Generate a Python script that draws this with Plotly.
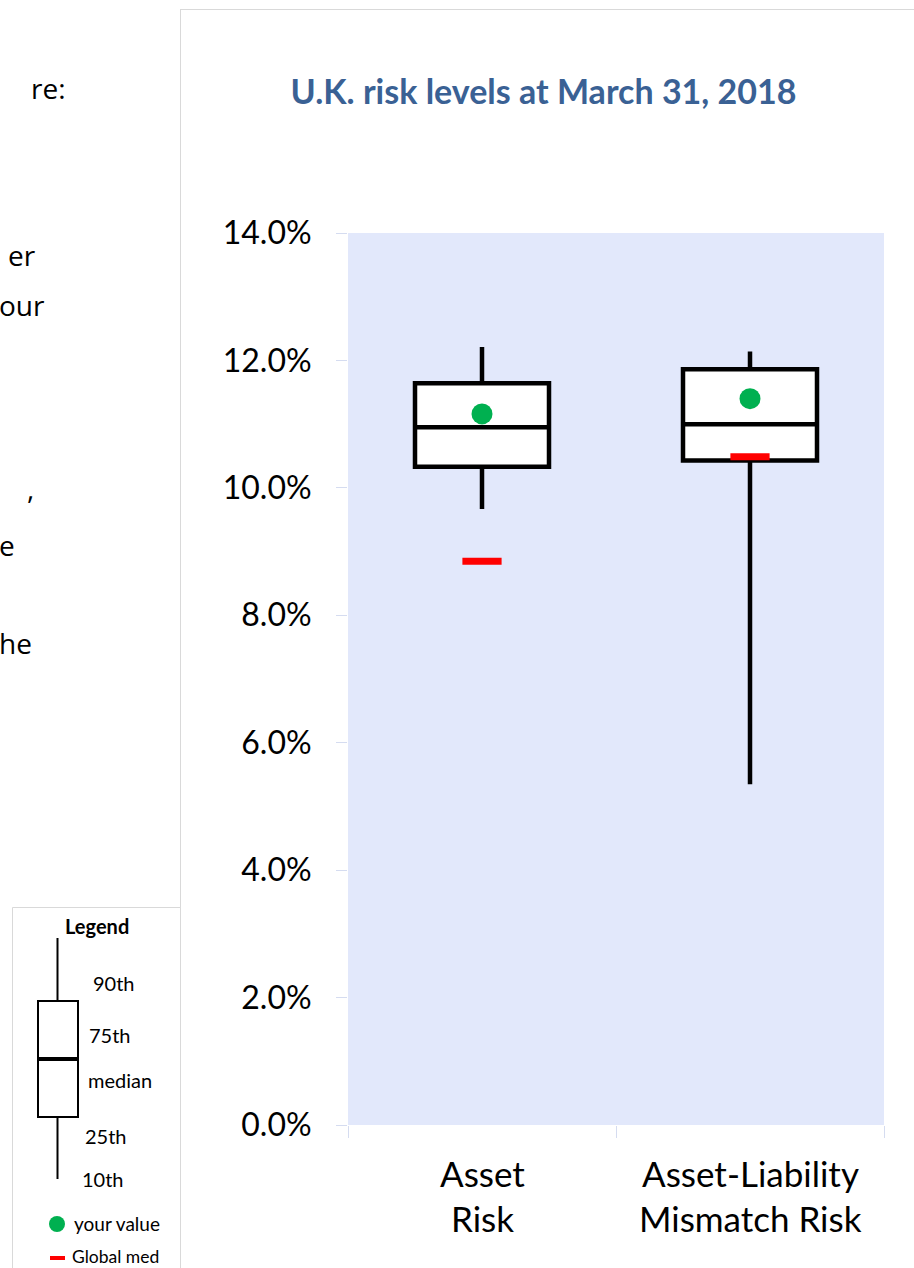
import plotly.graph_objects as go

# ---- data -------------------------------------------------------------
categories = ["Asset Risk", "Asset-Liability Mismatch Risk"]
category_lines = [["Asset", "Risk"], ["Asset-Liability", "Mismatch Risk"]]
p10 = [0.0967, 0.0535]
p25 = [0.1033, 0.1043]
p50 = [0.1095, 0.1100]
p75 = [0.1164, 0.1186]
p90 = [0.1221, 0.1214]
your_value = [0.1116, 0.1140]
global_median = [0.0885, 0.1049]
y_tick_values = [0.00, 0.02, 0.04, 0.06, 0.08, 0.10, 0.12, 0.14]

legend_labels = ["90th", "75th", "median", "25th", "10th"]
side_text = ["re:", "er", "our", ",", "e", "he"]

# ---- page geometry ----------------------------------------------------
W, H = 914, 1268
ML, MR, MT, MB = 348, 30, 233, 143
PW, PH = W - ML - MR, H - MT - MB

CHART_FONT = "Lato"
TEXT_FONT = "Open Sans"
FRAME = "#D9D9D9"


def fx(px):
    return (px - ML) / PW


def fy(py):
    return (H - MB - py) / PH


fig = go.Figure()

fig.add_trace(go.Box(
    x=categories,
    q1=p25, median=p50, q3=p75,
    lowerfence=p10, upperfence=p90,
    boxpoints=False,
    fillcolor="white",
    line=dict(color="black", width=4.5),
    whiskerwidth=0,
    width=0.5,
    hoverinfo="skip",
    showlegend=False,
))

fig.add_trace(go.Scatter(
    x=categories, y=global_median, mode="markers",
    marker=dict(symbol="line-ew", size=28,
                line=dict(color="#FF0000", width=7)),
    showlegend=False, hoverinfo="skip",
))

fig.add_trace(go.Scatter(
    x=categories, y=your_value, mode="markers",
    marker=dict(size=21, color="#00B050", line=dict(width=0)),
    showlegend=False, hoverinfo="skip",
))

# category labels, one line per annotation
annotations = []
for cat, lines in zip(categories, category_lines):
    for i, line in enumerate(lines):
        annotations.append(dict(
            x=cat, xref="x", y=fy(1173 + 45 * i), yref="paper",
            text=line, showarrow=False, xanchor="center", yanchor="middle",
            font=dict(family=CHART_FONT, size=35, color="black"),
        ))

# ---- surrounding frame and legend key --------------------------------
shapes = [
    dict(type="line", xref="paper", yref="paper",
         x0=fx(180), x1=fx(914), y0=fy(9.5), y1=fy(9.5),
         line=dict(color=FRAME, width=1)),
    dict(type="line", xref="paper", yref="paper",
         x0=fx(180.5), x1=fx(180.5), y0=fy(9.5), y1=fy(1270),
         line=dict(color=FRAME, width=1)),
    dict(type="rect", xref="paper", yref="paper",
         x0=fx(12.5), x1=fx(180.5), y0=fy(907.5), y1=fy(1272),
         line=dict(color=FRAME, width=1), fillcolor="white"),
    # key whisker, box and median
    dict(type="line", xref="paper", yref="paper",
         x0=fx(57.5), x1=fx(57.5), y0=fy(938), y1=fy(1179),
         line=dict(color="black", width=2)),
    dict(type="rect", xref="paper", yref="paper",
         x0=fx(38), x1=fx(78), y0=fy(1001), y1=fy(1117),
         line=dict(color="black", width=2), fillcolor="white"),
    dict(type="line", xref="paper", yref="paper",
         x0=fx(37), x1=fx(79), y0=fy(1059), y1=fy(1059),
         line=dict(color="black", width=4)),
    # key markers
    dict(type="circle", xref="paper", yref="paper",
         x0=fx(49), x1=fx(65), y0=fy(1216), y1=fy(1232),
         line=dict(width=0), fillcolor="#00B050"),
    dict(type="rect", xref="paper", yref="paper",
         x0=fx(50), x1=fx(65), y0=fy(1256), y1=fy(1260),
         line=dict(width=0), fillcolor="#FF0000"),
]

annotations.append(dict(
    x=fx(97), y=fy(926), xref="paper", yref="paper", text="<b>Legend</b>",
    showarrow=False, xanchor="center", yanchor="middle",
    font=dict(family=CHART_FONT, size=20, color="black"),
))
key_pos = [(91, 983), (87, 1035), (86, 1080), (83, 1136), (80, 1179)]
for label, (lx, ly) in zip(legend_labels, key_pos):
    annotations.append(dict(
        x=fx(lx), y=fy(ly), xref="paper", yref="paper", text=label,
        showarrow=False, xanchor="left", yanchor="middle",
        font=dict(family=CHART_FONT, size=20, color="black"),
    ))
for label, (lx, ly), size in zip(["your value", "Global med"],
                                 [(72, 1223), (70, 1256)], [19, 17.5]):
    annotations.append(dict(
        x=fx(lx), y=fy(ly), xref="paper", yref="paper", text=label,
        showarrow=False, xanchor="left", yanchor="middle",
        font=dict(family=CHART_FONT, size=size, color="black"),
    ))

# fragments of the neighbouring paragraph, clipped by the page edge
side_pos = [(68, 88), (38, 255), (47, 305), (36, 488), (17, 545), (34, 643)]
for frag, (sx, sy) in zip(side_text, side_pos):
    annotations.append(dict(
        x=fx(sx), y=fy(sy), xref="paper", yref="paper", text=frag,
        showarrow=False, xanchor="right", yanchor="middle",
        font=dict(family=TEXT_FONT, size=28, color="black"),
    ))

fig.update_layout(
    width=W, height=H,
    margin=dict(l=ML, r=MR, t=MT, b=MB, pad=0),
    paper_bgcolor="white",
    plot_bgcolor="#E2E8FB",
    title=dict(
        text="<b>U.K. risk levels at March 31, 2018</b>",
        x=543.5 / W, xref="container", xanchor="center",
        y=1 - 92 / H, yref="container", yanchor="middle",
        font=dict(family=CHART_FONT, size=34, color="#3A6194"),
    ),
    xaxis=dict(
        type="category", range=[-0.5, 1.5],
        tickson="boundaries", ticks="outside", ticklen=12,
        tickcolor="#D5DCF0", tickwidth=1,
        showticklabels=False, showgrid=False, showline=False, zeroline=False,
    ),
    yaxis=dict(
        range=[0, 0.14], tickmode="array", tickvals=y_tick_values,
        tickformat=".1%", ticks="outside", ticklen=11,
        tickcolor="#D5DCF0", tickwidth=1,
        ticklabelstandoff=18,
        tickfont=dict(family=CHART_FONT, size=32, color="black"),
        showgrid=False, showline=False, zeroline=False,
    ),
    shapes=shapes,
    annotations=annotations,
    showlegend=False,
)

fig.write_html("out.html")
